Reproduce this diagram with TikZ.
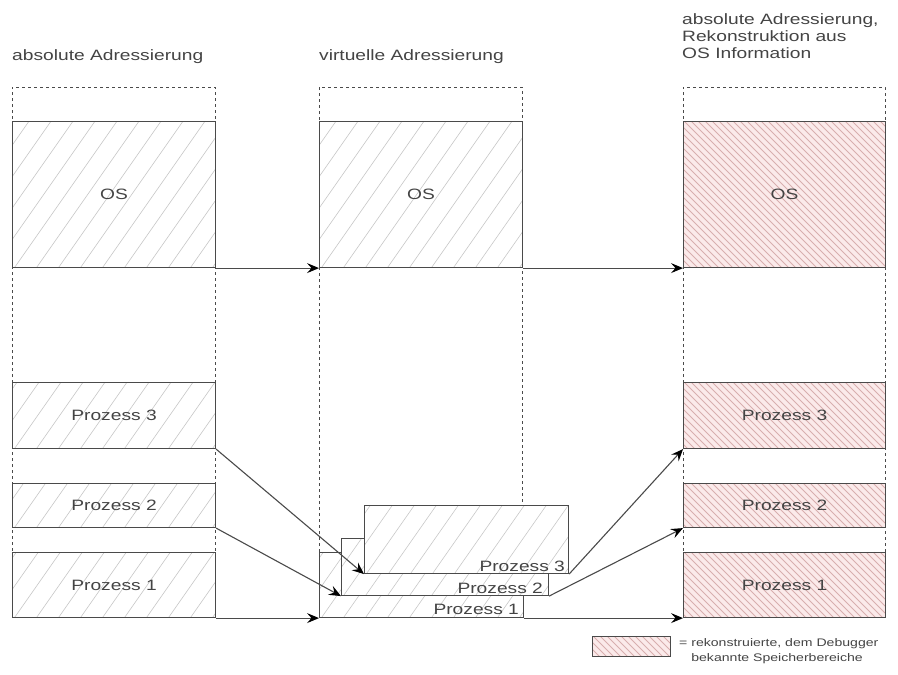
\documentclass[tikz,border=0pt]{standalone}
\usepackage{fontspec}
\setmainfont{Liberation Sans}[FakeStretch=1.28]
\usetikzlibrary{arrows.meta}
\definecolor{lc}{HTML}{4A4A4A}
\definecolor{hatchgray}{HTML}{C8C8C8}
\definecolor{pinkbg}{HTML}{FBEAEA}
\definecolor{pinkline}{HTML}{D8AEAE}
\definecolor{txt}{HTML}{444444}
\tikzset{
  sz/.style 2 args={minimum width=#1pt, minimum height=#2pt},
  boxbase/.style={draw=lc, line width=1.1pt, rectangle, inner sep=0pt,
    anchor=north west, text=txt, font=\fontsize{15}{17}\selectfont},
  mem/.style={boxbase, fill=white,
    path picture={\foreach \i in {-130,-108,...,240}{
      \draw[hatchgray, line width=0.6pt]
        ([xshift=\i pt]path picture bounding box.south west) -- ++(140pt,200pt);}}},
  recon/.style={boxbase, fill=pinkbg,
    path picture={\foreach \i in {-160,-153,...,220}{
      \draw[pinkline, line width=0.9pt]
        ([xshift=\i pt]path picture bounding box.north west) -- ++(200pt,-200pt);}}},
  lbl/.style={text=txt, font=\fontsize{15}{17}\selectfont, inner sep=0pt},
  ttl/.style={text=txt, font=\fontsize{15}{17}\selectfont, inner sep=0pt},
  legtxt/.style={text=txt, font=\fontsize{11}{15}\selectfont, inner sep=0pt, align=left},
  col/.style={draw=lc, line width=1pt, dash pattern=on 3pt off 3pt},
  arr/.style={draw=lc, line width=1.1pt, -{Stealth[length=12pt,width=10pt,inset=4.5pt,color=black]}}
}
\begin{document}
\begin{tikzpicture}[x=1pt,y=-1pt]
\useasboundingbox (0,0) rectangle (898,675);
% column outlines
\draw[col] (12,617) -- (12,87) -- (215,87) -- (215,617);
\draw[col] (319,552) -- (319,87) -- (522,87) -- (522,505);
\draw[col] (683,617) -- (683,87) -- (885,87) -- (885,617);
% titles
\node[ttl, anchor=base west] (t1) at (12,60) {absolute Adressierung};
\node[ttl, anchor=base west] (t2) at (319,60) {virtuelle Adressierung};
\node[ttl, anchor=north west, align=left] (t3) at (682,13)
  {absolute Adressierung,\\Rekonstruktion aus\\OS Information};
% left column
\node[mem, sz={203}{146}] (lOS) at (12,121) {OS};
\node[mem, sz={203}{66}] (lP3) at (12,382) {Prozess 3};
\node[mem, sz={203}{44}] (lP2) at (12,483) {Prozess 2};
\node[mem, sz={203}{65}] (lP1) at (12,552) {Prozess 1};
% middle column
\node[mem, sz={203}{146}] (mOS) at (319,121) {OS};
\node[mem, sz={204}{65}] (mP1) at (319,552) {};
\node[mem, sz={207}{57}] (mP2) at (341,538) {};
\node[mem, sz={204}{68}] (mP3) at (364,505) {};
\node[lbl, anchor=base east] (m1l) at ([xshift=-5pt,yshift=4pt]mP1.south east) {Prozess 1};
\node[lbl, anchor=base east] (m2l) at ([xshift=-6pt,yshift=3pt]mP2.south east) {Prozess 2};
\node[lbl, anchor=base east] (m3l) at ([xshift=-4pt,yshift=3pt]mP3.south east) {Prozess 3};
% right column
\node[recon, sz={202}{146}] (rOS) at (683,121) {OS};
\node[recon, sz={202}{66}] (rP3) at (683,382) {Prozess 3};
\node[recon, sz={202}{44}] (rP2) at (683,483) {Prozess 2};
\node[recon, sz={202}{65}] (rP1) at (683,552) {Prozess 1};
% arrows
\draw[arr] (lOS.south east) -- (mOS.south west);
\draw[arr] (mOS.south east) -- (rOS.south west);
\draw[arr] (lP3.south east) -- (mP3.south west);
\draw[arr] (lP2.south east) -- (mP2.south west);
\draw[arr] (lP1.south east) -- (mP1.south west);
\draw[arr] (mP3.south east) -- (rP3.south west);
\draw[arr] (mP2.south east) -- (rP2.south west);
\draw[arr] (mP1.south east) -- (rP1.south west);
% legend
\node[recon, sz={78}{20}] (leg) at (592,636) {};
\node[legtxt, anchor=north west] (legt) at (679,638)
  {= rekonstruierte, dem Debugger\\\hphantom{=\ }bekannte Speicherbereiche};
\end{tikzpicture}
\end{document}
